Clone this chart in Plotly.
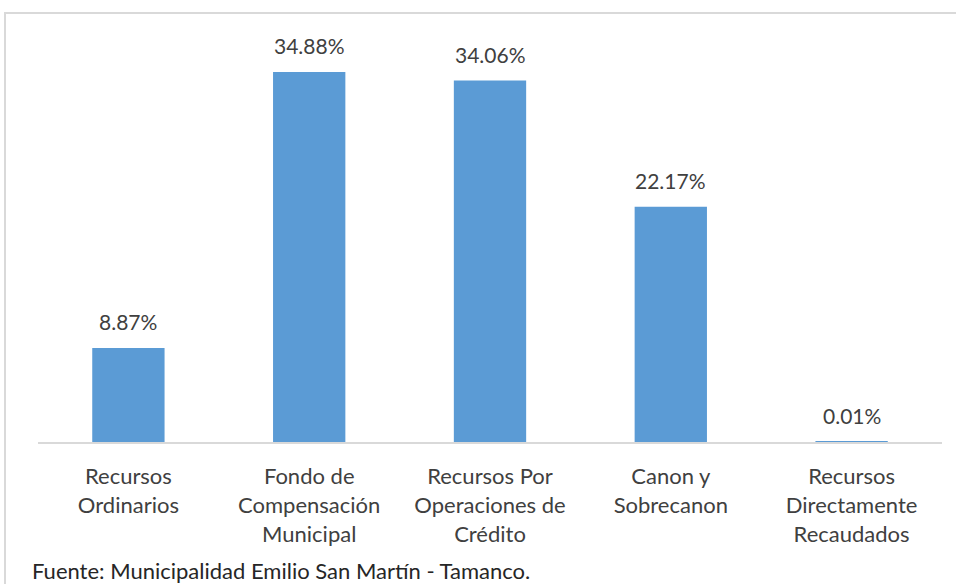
import plotly.graph_objects as go

categories = ["Recursos<br>Ordinarios", "Fondo de<br>Compensación<br>Municipal",
              "Recursos Por<br>Operaciones de<br>Crédito", "Canon y<br>Sobrecanon",
              "Recursos<br>Directamente<br>Recaudados"]
values = [8.87, 34.88, 34.06, 22.17, 0.01]
labels = ["8.87%", "34.88%", "34.06%", "22.17%", "0.01%"]
source = "Fuente: Municipalidad Emilio San Martín - Tamanco."

FONT = "Lato"
TXT = "#404040"
xs = list(range(len(categories)))

fig = go.Figure()
fig.add_trace(go.Bar(x=xs, y=values, marker=dict(color="#5B9BD5", line=dict(width=0)),
                     width=0.4, hoverinfo="skip"))

for x, v, t in zip(xs, values, labels):
    fig.add_annotation(x=x, y=v, text=t, showarrow=False, yanchor="bottom", yshift=12,
                       font=dict(family=FONT, size=21, color=TXT))

fig.add_annotation(x=-0.009, xref="paper", y=-0.305, yref="paper", text=source,
                   showarrow=False, xanchor="left", yanchor="middle",
                   font=dict(family=FONT, size=22, color="#262626"))

# outer frame
fig.add_shape(type="rect", xref="paper", yref="paper", x0=-0.0365, x1=1.05, y0=-0.5, y1=1.0166,
              line=dict(color="#d9d9d9", width=2), fillcolor="rgba(0,0,0,0)", layer="below")

fig.update_layout(
    width=956, height=584,
    margin=dict(l=38, r=14, t=20, b=142),
    paper_bgcolor="white", plot_bgcolor="white",
    showlegend=False,
    font=dict(family=FONT, size=21, color=TXT),
    xaxis=dict(tickmode="array", tickvals=xs, ticktext=categories, range=[-0.5, 4.5],
               showline=True, linecolor="#d9d9d9", linewidth=2, showgrid=False,
               ticks="", ticklabelstandoff=14, tickfont=dict(family=FONT, size=22, color=TXT),
               zeroline=False, fixedrange=True),
    yaxis=dict(range=[0, 39.77], visible=False, showgrid=False, zeroline=False, fixedrange=True),
)

fig.write_html("out.html", config={"displayModeBar": False},
               post_script="document.body.style.margin='0';document.body.style.overflow='hidden';")
